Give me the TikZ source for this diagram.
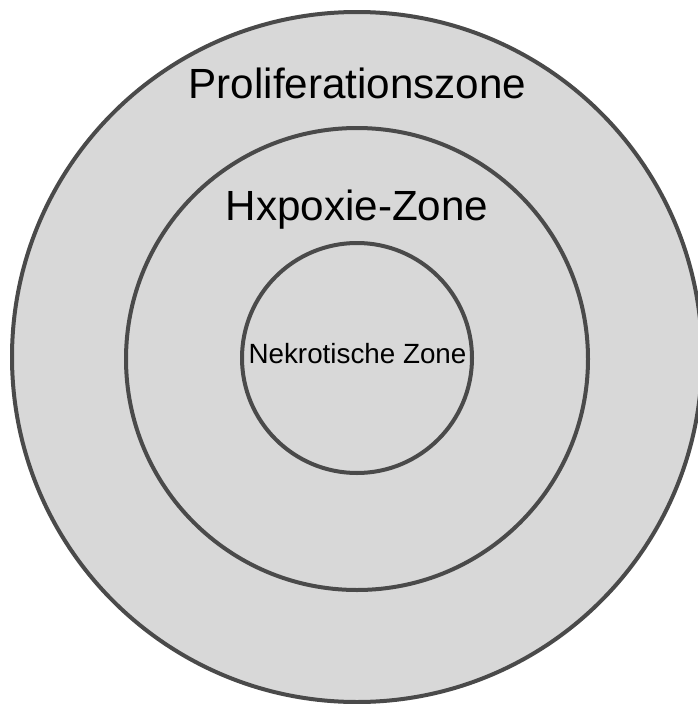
\documentclass[tikz,border=0pt]{standalone}
\usepackage{fontspec}
\setmainfont{Liberation Sans}
\definecolor{ringline}{HTML}{4A4A4A}
\definecolor{ringfill}{HTML}{D8D8D8}
\begin{document}
\begin{tikzpicture}[x=1pt,y=-1pt,
  zone/.style={circle,draw=ringline,fill=ringfill,line width=4pt,inner sep=0pt},
  biglabel/.style={anchor=base,inner sep=0pt,font=\fontsize{42.2}{48}\selectfont},
  smalllabel/.style={anchor=base,inner sep=0pt,font=\fontsize{27.8}{32}\selectfont}]
\fill[white] (0,0) rectangle (697,704);
\useasboundingbox (0,0) rectangle (697,704);
\node[zone,minimum size=690pt] (outer) at (357,357) {};
\node[zone,minimum size=462pt] (middle) at (357,359) {};
\node[zone,minimum size=230pt] (inner) at (357,358) {};
\node[biglabel] (prolif) at (357.5,98) {Proliferationszone};
\node[biglabel] (hypox) at (357,220) {Hxpoxie-Zone};
\node[smalllabel] (nekro) at (357.5,363) {Nekrotische Zone};
\end{tikzpicture}
\end{document}
